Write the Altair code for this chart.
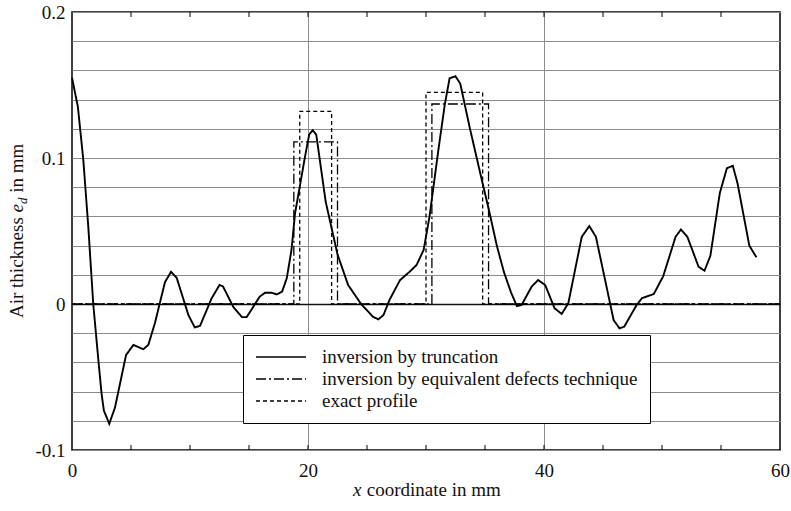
import altair as alt
import pandas as pd

FONT = "Liberation Serif"

# ---- data ----
series_names = ["inversion by truncation",
                "inversion by equivalent defects technique",
                "exact profile"]

trunc_x = [0.0, 0.5, 0.96, 1.38, 1.8, 2.23, 2.5, 2.7, 3.16, 3.64, 4.58, 5.2, 6.04, 6.47,
           7.03, 7.88, 8.39, 8.87, 9.86, 10.4, 10.85, 11.84, 12.5, 12.8, 13.67, 14.4,
           14.8, 15.2, 15.9, 16.36, 16.9, 17.35, 17.8, 18.2, 18.6, 18.9, 19.75, 20.1,
           20.4, 20.7, 21.5, 22.5, 23.4, 24.5, 25.5, 25.96, 26.4, 26.9, 27.8, 28.6,
           29.2, 29.8, 30.3, 31.04, 31.6, 32.0, 32.5, 32.9, 33.7, 34.6, 35.4, 36.0,
           36.6, 37.2, 37.7, 38.1, 38.96, 39.5, 40.1, 40.9, 41.5, 42.06, 43.2, 43.84,
           44.4, 45.9, 46.4, 46.8, 47.85, 48.3, 49.3, 50.1, 51.15, 51.6, 52.15, 53.1,
           53.6, 54.1, 54.9, 55.5, 56.0, 56.4, 57.4, 58.0]
trunc_y = [0.155, 0.135, 0.0986, 0.053, 0.0, -0.038, -0.061, -0.073, -0.082, -0.071,
           -0.035, -0.028, -0.031, -0.028, -0.013, 0.015, 0.022, 0.018, -0.0075, -0.016,
           -0.015, 0.004, 0.013, 0.012, -0.002, -0.009, -0.009, -0.004, 0.005, 0.0077,
           0.0077, 0.0066, 0.0084, 0.0176, 0.037, 0.062, 0.101, 0.116, 0.119, 0.116,
           0.07, 0.034, 0.013, 0.0, -0.0087, -0.0105, -0.0075, 0.0027, 0.0164, 0.022,
           0.0267, 0.037, 0.06, 0.105, 0.137, 0.1546, 0.156, 0.151, 0.121, 0.0895,
           0.062, 0.04, 0.022, 0.008, -0.0014, -0.0007, 0.012, 0.0164, 0.013, -0.003,
           -0.0068, 0.0005, 0.046, 0.0534, 0.046, -0.011, -0.0167, -0.0155, -0.0007,
           0.004, 0.0068, 0.019, 0.046, 0.051, 0.046, 0.0255, 0.0228, 0.033, 0.076,
           0.093, 0.0947, 0.0827, 0.040, 0.032]

edt_x = [0, 18.8, 18.8, 22.5, 22.5, 30.5, 30.5, 35.3, 35.3, 60]
edt_y = [0, 0, 0.111, 0.111, 0, 0, 0.137, 0.137, 0, 0]

exact_x = [0, 19.3, 19.3, 22.0, 22.0, 30.0, 30.0, 34.8, 34.8, 60]
exact_y = [0, 0, 0.132, 0.132, 0, 0, 0.145, 0.145, 0, 0]

x_label_values = [0, 20, 40, 60]
x_minor_ticks = [5, 10, 15, 20, 25, 30, 35, 40, 45, 50, 55]
y_grid_values = [-0.1, -0.08, -0.06, -0.04, -0.02, 0.0, 0.02, 0.04, 0.06, 0.08,
                 0.1, 0.12, 0.14, 0.16, 0.18, 0.2]

# ---- tables ----
df_trunc = pd.DataFrame({"x": trunc_x, "y": trunc_y, "series": series_names[0],
                         "i": range(len(trunc_x))})
df_prof = pd.concat([
    pd.DataFrame({"x": edt_x, "y": edt_y, "series": series_names[1], "i": range(len(edt_x))}),
    pd.DataFrame({"x": exact_x, "y": exact_y, "series": series_names[2], "i": range(len(exact_x))}),
], ignore_index=True)
df_ticks = pd.DataFrame({"tx": x_minor_ticks})

xscale = alt.Scale(domain=[0, 60], nice=False, zero=False)
yscale = alt.Scale(domain=[-0.1, 0.2], nice=False, zero=False)

xaxis = alt.Axis(values=x_label_values, title=None, domain=False, ticks=False,
                 grid=True, gridColor="#8c8c8c", gridWidth=1,
                 gridOpacity={"condition": {"test": "datum.value == 20 || datum.value == 40",
                                            "value": 1}, "value": 0},
                 labelFont=FONT, labelFontSize=19, labelColor="#111",
                 labelPadding=11, labelFlush=False)
yaxis = alt.Axis(values=y_grid_values, title=None, domain=False, ticks=False,
                 grid=True,
                 gridColor={"condition": {"test": "abs(datum.value) < 0.001", "value": "#111"},
                            "value": "#8c8c8c"},
                 gridWidth={"condition": {"test": "abs(datum.value) < 0.001", "value": 1.6},
                            "value": 1},
                 labelExpr="abs(datum.value*10 - round(datum.value*10)) < 0.001 ? "
                           "(abs(datum.value) < 0.001 ? '0' : (datum.value < 0 ? '-' + format(-datum.value, '.1f') : format(datum.value, '.1f'))) : ''",
                 labelOverlap=False, labelFont=FONT, labelFontSize=19, labelColor="#111",
                 labelPadding=7, labelFlush=False)

X = alt.X("x:Q", scale=xscale, axis=xaxis)
Y = alt.Y("y:Q", scale=yscale, axis=yaxis)

dash = alt.StrokeDash(
    "series:N",
    scale=alt.Scale(domain=series_names, range=[[1, 0], [10, 3, 2, 3], [4, 3]]),
    legend=alt.Legend(title=None, orient="none", legendX=171, legendY=323,
                      direction="vertical", symbolType="stroke", symbolSize=2500,
                      symbolStrokeWidth=1.5, symbolStrokeColor="black",
                      labelFont=FONT, labelFontSize=19, labelColor="#111",
                      labelOffset=15, labelLimit=600, padding=12,
                      strokeColor="black", fillColor="white",
                      clipHeight=20, rowPadding=2),
)

trunc = alt.Chart(df_trunc).mark_line(color="black", strokeWidth=1.9).encode(
    x=X, y=Y, strokeDash=dash, order="i:Q")
prof = alt.Chart(df_prof).mark_line(color="black", strokeWidth=1.3).encode(
    x=X, y=Y, strokeDash=dash, order="i:Q")

ticks_bottom = alt.Chart(df_ticks).mark_rule(color="black", strokeWidth=1).encode(
    x=alt.X("tx:Q", scale=xscale, axis=xaxis), y=alt.value(438), y2=alt.value(433))
ticks_top = alt.Chart(df_ticks).mark_rule(color="black", strokeWidth=1).encode(
    x=alt.X("tx:Q", scale=xscale, axis=xaxis), y=alt.value(0), y2=alt.value(5))


def txt(s, x, y, size=19, style="normal", angle=0):
    return alt.Chart(pd.DataFrame({"t": [s]})).mark_text(
        font=FONT, fontSize=size, fontStyle=style, color="#111", align="left",
        baseline="alphabetic", angle=angle).encode(
        text="t:N", x=alt.value(x), y=alt.value(y))


# y-axis title pieces (rotated, reading upwards)
yt1 = txt("Air thickness", -49, 306, angle=270)
yt2 = txt("e", -49, 200.5, style="italic", angle=270)
yt3 = txt("d", -45, 192, size=13, style="italic", angle=270)
yt4 = txt("in mm", -49, 180.8, angle=270)

# x-axis title pieces
xt1 = txt("x", 281, 484, style="italic")
xt2 = txt("coordinate in mm", 294.7, 484)

chart = alt.layer(prof, trunc, ticks_bottom, ticks_top,
                  yt1, yt2, yt3, yt4, xt1, xt2).properties(
    width=708, height=438,
    autosize=alt.AutoSizeParams(type="none"),
    padding={"left": 72, "top": 12, "right": 11, "bottom": 61},
    background="white",
).configure_view(stroke="black", strokeWidth=1.5)

chart.save("out.html", embed_options={"renderer": "svg", "actions": False})
